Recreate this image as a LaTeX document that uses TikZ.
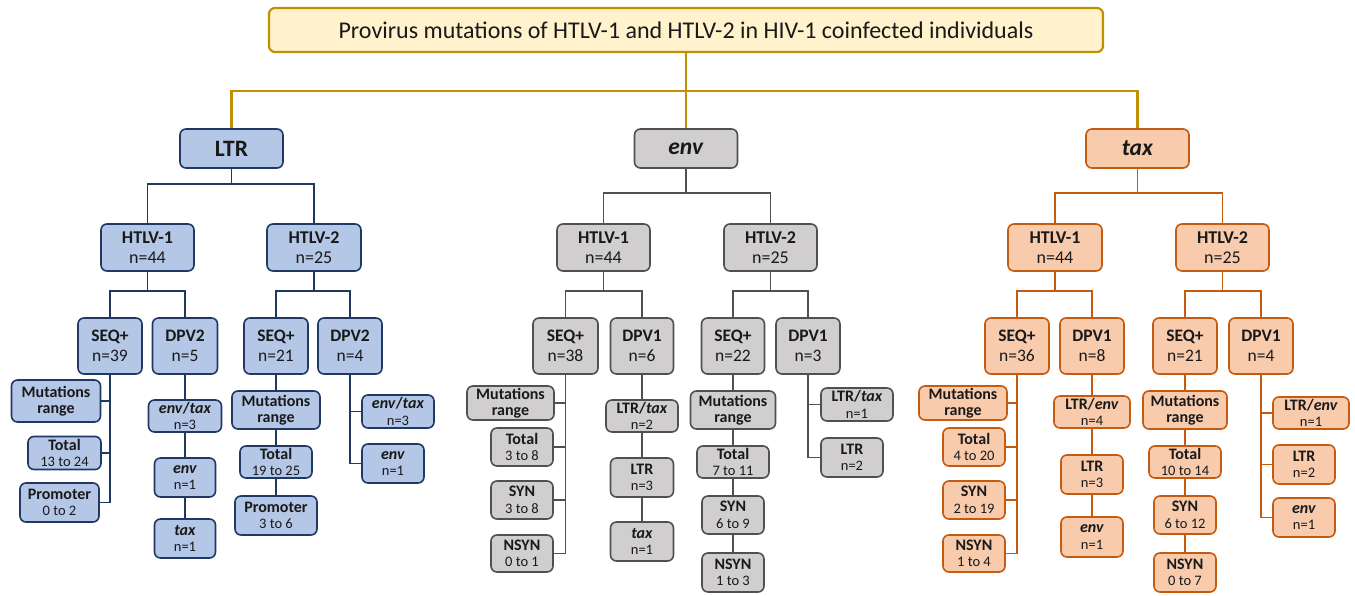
\documentclass[tikz,border=0pt]{standalone}
\usepackage{fontspec}
\setmainfont{Carlito}
\usetikzlibrary{positioning,calc}
\definecolor{titlefill}{HTML}{FFF2CC}
\definecolor{titleframe}{HTML}{BF9000}
\definecolor{ltrfill}{HTML}{B4C7E7}
\definecolor{ltrframe}{HTML}{1F3864}
\definecolor{envfill}{HTML}{D0CECE}
\definecolor{envframe}{HTML}{505050}
\definecolor{taxfill}{HTML}{F8CBAD}
\definecolor{taxframe}{HTML}{C55A11}
\newcommand{\gene}[1]{\textit{#1}}
\newcommand{\twoline}[2]{\textbf{#1}\\#2}
\newcommand{\leaftxt}[2]{\textbf{#1}\\{\fontsize{14.5}{16}\selectfont #2}}
\tikzset{sz/.style 2 args={minimum width=#1pt, minimum height=#2pt}}

\begin{document}
\begin{tikzpicture}[x=1pt, y=-1pt,
  box/.style={line width=1.6pt, rounded corners=6pt, align=center,
              inner sep=1pt, text=black!90},
  ltrb/.style={box, fill=ltrfill, draw=ltrframe},
  envb/.style={box, fill=envfill, draw=envframe},
  taxb/.style={box, fill=taxfill, draw=taxframe},
  lvlone/.style={font=\fontsize{23.5}{26}\selectfont\bfseries},
  lvltwo/.style={font=\fontsize{18}{20.5}\selectfont},
  lvlthree/.style={font=\fontsize{17.5}{20}\selectfont},
  leaf/.style={font=\fontsize{16}{16.5}\selectfont},
  goldline/.style={draw=titleframe, line width=2.2pt},
  ltrline/.style={draw=ltrframe, line width=1.8pt},
  envline/.style={draw=envframe, line width=1.8pt},
  taxline/.style={draw=taxframe, line width=1.8pt}]
\useasboundingbox (0,0) rectangle (1355,596);

% title and the three regions
\node[box, fill=titlefill, draw=titleframe, line width=2.2pt, sz={834}{44},
      font=\fontsize{24}{27}\selectfont] (title) at (686,30)
      {Provirus mutations of HTLV-1 and HTLV-2 in HIV-1 coinfected individuals};
\node[ltrb, lvlone, sz={103}{39}] (ltr) at (231.5,148.5) {LTR};
\node[envb, lvlone, sz={103}{39}] (env) at (686,148.5) {\gene{env}};
\node[taxb, lvlone, sz={103}{39}] (tax) at (1137.5,148.5) {\gene{tax}};
\draw[goldline] (title.south) -- ++(0,38) -| (ltr.north);
\draw[goldline] (title.south) -- (env.north);
\draw[goldline] (title.south) -- ++(0,38) -| (tax.north);

% LTR
\node[ltrb, lvltwo, sz={93}{47}] (ltrA) at (147.5,247.5) {\twoline{HTLV-1}{n=44}};
\node[ltrb, lvltwo, sz={94}{47}] (ltrB) at (314,247.5) {\twoline{HTLV-2}{n=25}};
\node[ltrb, lvlthree, sz={64}{56}] (ltrAseq) at (110,346) {\twoline{SEQ+}{n=39}};
\node[ltrb, lvlthree, sz={65}{56}] (ltrAdpv) at (185,346) {\twoline{DPV2}{n=5}};
\node[ltrb, lvlthree, sz={64}{56}] (ltrBseq) at (276,346) {\twoline{SEQ+}{n=21}};
\node[ltrb, lvlthree, sz={64}{56}] (ltrBdpv) at (350,346) {\twoline{DPV2}{n=4}};
\node[ltrb, leaf, sz={89}{42}] (ltrAmut) at (56,401) {\textbf{Mutations}\\\textbf{range}};
\node[ltrb, leaf, sz={73}{33}] (ltrAtot) at (64.5,453) {\leaftxt{Total}{13 to 24}};
\node[ltrb, leaf, sz={79}{39}] (ltrAprom) at (59.5,502.5) {\leaftxt{Promoter}{0 to 2}};
\node[ltrb, leaf, sz={73}{32}] (ltrAet) at (185,416) {\leaftxt{\gene{env}/\gene{tax}}{n=3}};
\node[ltrb, leaf, sz={61}{39}] (ltrAenv) at (185,477.5) {\leaftxt{\gene{env}}{n=1}};
\node[ltrb, leaf, sz={61}{39}] (ltrAtax) at (185,538.5) {\leaftxt{\gene{tax}}{n=1}};
\node[ltrb, leaf, sz={88}{38}] (ltrBmut) at (276,410) {\textbf{Mutations}\\\textbf{range}};
\node[ltrb, leaf, sz={72}{32}] (ltrBtot) at (276,462) {\leaftxt{Total}{19 to 25}};
\node[ltrb, leaf, sz={82}{39}] (ltrBprom) at (276,515.5) {\leaftxt{Promoter}{3 to 6}};
\node[ltrb, leaf, sz={72}{33}] (ltrBet) at (398,411.5) {\leaftxt{\gene{env}/\gene{tax}}{n=3}};
\node[ltrb, leaf, sz={62}{39}] (ltrBenv) at (393,463.5) {\leaftxt{\gene{env}}{n=1}};
\draw[ltrline] (ltr.south) -- ++(0,15) -| (ltrA.north);
\draw[ltrline] (ltr.south) -- ++(0,15) -| (ltrB.north);
\draw[ltrline] (ltrA.south) -- ++(0,19) -| (ltrAseq.north);
\draw[ltrline] (ltrA.south) -- ++(0,19) -| (ltrAdpv.north);
\draw[ltrline] (ltrB.south) -- ++(0,19) -| (ltrBseq.north);
\draw[ltrline] (ltrB.south) -- ++(0,19) -| (ltrBdpv.north);
\draw[ltrline] (ltrAseq.south) |- (ltrAmut.east);
\draw[ltrline] (ltrAseq.south) |- (ltrAtot.east);
\draw[ltrline] (ltrAseq.south) |- (ltrAprom.east);
\draw[ltrline] (ltrAdpv.south) -- (ltrAet.north);
\draw[ltrline] (ltrAet.south) -- (ltrAenv.north);
\draw[ltrline] (ltrAenv.south) -- (ltrAtax.north);
\draw[ltrline] (ltrBseq.south) -- (ltrBmut.north);
\draw[ltrline] (ltrBmut.south) -- (ltrBtot.north);
\draw[ltrline] (ltrBtot.south) -- (ltrBprom.north);
\draw[ltrline] (ltrBdpv.south) |- (ltrBet.west);
\draw[ltrline] (ltrBdpv.south) |- (ltrBenv.west);

% env
\node[envb, lvltwo, sz={93}{47}] (envA) at (603.5,247.5) {\twoline{HTLV-1}{n=44}};
\node[envb, lvltwo, sz={93}{47}] (envB) at (770.5,247.5) {\twoline{HTLV-2}{n=25}};
\node[envb, lvlthree, sz={65}{56}] (envAseq) at (565.5,346) {\twoline{SEQ+}{n=38}};
\node[envb, lvlthree, sz={63}{56}] (envAdpv) at (642,346) {\twoline{DPV1}{n=6}};
\node[envb, lvlthree, sz={63}{56}] (envBseq) at (733,346) {\twoline{SEQ+}{n=22}};
\node[envb, lvlthree, sz={64}{56}] (envBdpv) at (808,346) {\twoline{DPV1}{n=3}};
\node[envb, leaf, sz={87}{34}] (envAmut) at (510.5,403) {\textbf{Mutations}\\\textbf{range}};
\node[envb, leaf, sz={62}{38}] (envAtot) at (522,447) {\leaftxt{Total}{3 to 8}};
\node[envb, leaf, sz={62}{38}] (envAsyn) at (522,500) {\leaftxt{SYN}{3 to 8}};
\node[envb, leaf, sz={62}{37}] (envAnsyn) at (522,553.5) {\leaftxt{NSYN}{0 to 1}};
\node[envb, leaf, sz={72}{32}] (envAlt) at (642,416) {\leaftxt{LTR/\gene{tax}}{n=2}};
\node[envb, leaf, sz={63}{39}] (envAltr) at (642,477.5) {\leaftxt{LTR}{n=3}};
\node[envb, leaf, sz={63}{39}] (envAtax) at (642,541.5) {\leaftxt{\gene{tax}}{n=1}};
\node[envb, leaf, sz={85}{38}] (envBmut) at (733,410) {\textbf{Mutations}\\\textbf{range}};
\node[envb, leaf, sz={72}{32}] (envBtot) at (733,462) {\leaftxt{Total}{7 to 11}};
\node[envb, leaf, sz={62}{38}] (envBsyn) at (733,515) {\leaftxt{SYN}{6 to 9}};
\node[envb, leaf, sz={62}{39}] (envBnsyn) at (733,572.5) {\leaftxt{NSYN}{1 to 3}};
\node[envb, leaf, sz={72}{33}] (envBlt) at (857,404.5) {\leaftxt{LTR/\gene{tax}}{n=1}};
\node[envb, leaf, sz={62}{39}] (envBltr) at (852,457.5) {\leaftxt{LTR}{n=2}};
\draw[envline] (env.south) -- ++(0,24) -| (envA.north);
\draw[envline] (env.south) -- ++(0,24) -| (envB.north);
\draw[envline] (envA.south) -- ++(0,19) -| (envAseq.north);
\draw[envline] (envA.south) -- ++(0,19) -| (envAdpv.north);
\draw[envline] (envB.south) -- ++(0,19) -| (envBseq.north);
\draw[envline] (envB.south) -- ++(0,19) -| (envBdpv.north);
\draw[envline] (envAseq.south) |- (envAmut.east);
\draw[envline] (envAseq.south) |- (envAtot.east);
\draw[envline] (envAseq.south) |- (envAsyn.east);
\draw[envline] (envAseq.south) |- (envAnsyn.east);
\draw[envline] (envAdpv.south) -- (envAlt.north);
\draw[envline] (envAlt.south) -- (envAltr.north);
\draw[envline] (envAltr.south) -- (envAtax.north);
\draw[envline] (envBseq.south) -- (envBmut.north);
\draw[envline] (envBmut.south) -- (envBtot.north);
\draw[envline] (envBtot.south) -- (envBsyn.north);
\draw[envline] (envBsyn.south) -- (envBnsyn.north);
\draw[envline] (envBdpv.south) |- (envBlt.west);
\draw[envline] (envBdpv.south) |- (envBltr.west);

% tax
\node[taxb, lvltwo, sz={94}{47}] (taxA) at (1055,247.5) {\twoline{HTLV-1}{n=44}};
\node[taxb, lvltwo, sz={93}{47}] (taxB) at (1222.5,247.5) {\twoline{HTLV-2}{n=25}};
\node[taxb, lvlthree, sz={64}{56}] (taxAseq) at (1017,346) {\twoline{SEQ+}{n=36}};
\node[taxb, lvlthree, sz={64}{56}] (taxAdpv) at (1092,346) {\twoline{DPV1}{n=8}};
\node[taxb, lvlthree, sz={64}{56}] (taxBseq) at (1185,346) {\twoline{SEQ+}{n=21}};
\node[taxb, lvlthree, sz={64}{56}] (taxBdpv) at (1261,346) {\twoline{DPV1}{n=4}};
\node[taxb, leaf, sz={88}{34}] (taxAmut) at (963,403) {\textbf{Mutations}\\\textbf{range}};
\node[taxb, leaf, sz={62}{38}] (taxAtot) at (974,447) {\leaftxt{Total}{4 to 20}};
\node[taxb, leaf, sz={62}{38}] (taxAsyn) at (974,500) {\leaftxt{SYN}{2 to 19}};
\node[taxb, leaf, sz={62}{37}] (taxAnsyn) at (974,553.5) {\leaftxt{NSYN}{1 to 4}};
\node[taxb, leaf, sz={76}{32}] (taxAle) at (1092,412) {\leaftxt{LTR/\gene{env}}{n=4}};
\node[taxb, leaf, sz={62}{39}] (taxAltr) at (1092,474.5) {\leaftxt{LTR}{n=3}};
\node[taxb, leaf, sz={62}{40}] (taxAenv) at (1092,537) {\leaftxt{\gene{env}}{n=1}};
\node[taxb, leaf, sz={84}{38}] (taxBmut) at (1185,410) {\textbf{Mutations}\\\textbf{range}};
\node[taxb, leaf, sz={72}{32}] (taxBtot) at (1185,462) {\leaftxt{Total}{10 to 14}};
\node[taxb, leaf, sz={62}{38}] (taxBsyn) at (1185,515) {\leaftxt{SYN}{6 to 12}};
\node[taxb, leaf, sz={62}{39}] (taxBnsyn) at (1185,572.5) {\leaftxt{NSYN}{0 to 7}};
\node[taxb, leaf, sz={76}{32}] (taxBle) at (1311,413) {\leaftxt{LTR/\gene{env}}{n=1}};
\node[taxb, leaf, sz={62}{39}] (taxBltr) at (1304,464.5) {\leaftxt{LTR}{n=2}};
\node[taxb, leaf, sz={62}{39}] (taxBenv) at (1304,517.5) {\leaftxt{\gene{env}}{n=1}};
\draw[taxline] (tax.south) -- ++(0,24) -| (taxA.north);
\draw[taxline] (tax.south) -- ++(0,24) -| (taxB.north);
\draw[taxline] (taxA.south) -- ++(0,19) -| (taxAseq.north);
\draw[taxline] (taxA.south) -- ++(0,19) -| (taxAdpv.north);
\draw[taxline] (taxB.south) -- ++(0,19) -| (taxBseq.north);
\draw[taxline] (taxB.south) -- ++(0,19) -| (taxBdpv.north);
\draw[taxline] (taxAseq.south) |- (taxAmut.east);
\draw[taxline] (taxAseq.south) |- (taxAtot.east);
\draw[taxline] (taxAseq.south) |- (taxAsyn.east);
\draw[taxline] (taxAseq.south) |- (taxAnsyn.east);
\draw[taxline] (taxAdpv.south) -- (taxAle.north);
\draw[taxline] (taxAle.south) -- (taxAltr.north);
\draw[taxline] (taxAltr.south) -- (taxAenv.north);
\draw[taxline] (taxBseq.south) -- (taxBmut.north);
\draw[taxline] (taxBmut.south) -- (taxBtot.north);
\draw[taxline] (taxBtot.south) -- (taxBsyn.north);
\draw[taxline] (taxBsyn.south) -- (taxBnsyn.north);
\draw[taxline] (taxBdpv.south) |- (taxBle.west);
\draw[taxline] (taxBdpv.south) |- (taxBltr.west);
\draw[taxline] (taxBdpv.south) |- (taxBenv.west);
\end{tikzpicture}
\end{document}
